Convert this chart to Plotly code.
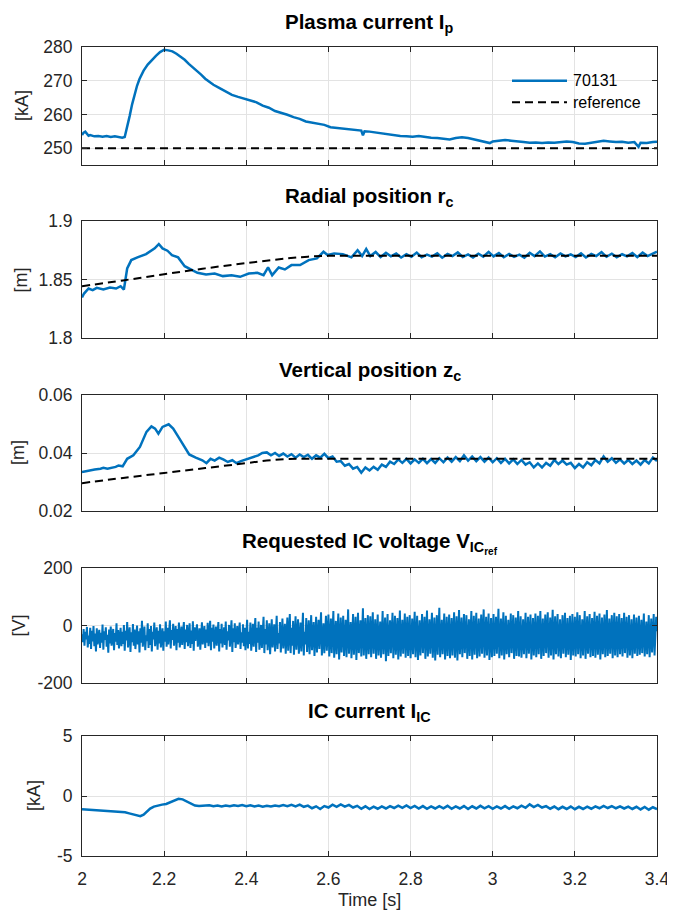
import plotly.graph_objects as go
from plotly.subplots import make_subplots

# ---- plasma current Ip [kA] ----
ip_t = [2.000, 2.004, 2.008, 2.012, 2.016, 2.020, 2.030, 2.040, 2.050, 2.060,
        2.070, 2.080, 2.090, 2.098, 2.104, 2.110, 2.116, 2.122, 2.128, 2.134,
        2.140, 2.150, 2.160, 2.170, 2.180, 2.190, 2.200, 2.210, 2.220, 2.230,
        2.240, 2.250, 2.260, 2.270, 2.280, 2.290, 2.300, 2.310, 2.320, 2.335,
        2.350, 2.365, 2.380, 2.395, 2.410, 2.425, 2.440, 2.455, 2.470, 2.485,
        2.500, 2.515, 2.530, 2.545, 2.560, 2.575, 2.590, 2.605, 2.620, 2.635,
        2.650, 2.665, 2.680, 2.684, 2.688, 2.700, 2.715, 2.730, 2.745, 2.760,
        2.775, 2.790, 2.805, 2.820, 2.835, 2.850, 2.865, 2.880, 2.895, 2.910,
        2.925, 2.940, 2.955, 2.970, 2.985, 2.993, 3.000, 3.015, 3.030, 3.045,
        3.060, 3.075, 3.090, 3.105, 3.120, 3.135, 3.150, 3.165, 3.180, 3.195,
        3.210, 3.225, 3.240, 3.255, 3.270, 3.285, 3.300, 3.315, 3.330, 3.345,
        3.355, 3.360, 3.375, 3.390, 3.400]
ip_val = [253.9, 254.6, 254.9, 254.2, 253.7, 253.9, 253.5, 253.6, 253.4, 253.6,
          253.3, 253.5, 253.2, 253.1, 253.3, 256.0, 259.5, 263.0, 266.0, 268.5,
          270.5, 273.0, 274.8, 276.2, 277.4, 278.5, 279.2, 279.0, 278.7, 278.0,
          277.2, 276.2, 275.0, 274.0, 272.8, 271.8, 270.6, 269.6, 268.8, 267.8,
          266.8, 265.8, 265.2, 264.6, 264.2, 263.6, 262.6, 262.0, 261.0, 260.5,
          259.9, 259.2, 258.7, 257.9, 257.6, 257.1, 256.9, 256.2, 256.0, 255.8,
          255.7, 255.3, 255.2, 253.8, 255.0, 254.9, 254.6, 254.5, 254.2, 253.8,
          253.6, 253.5, 253.4, 253.6, 253.3, 253.1, 253.0, 252.8, 252.6, 253.0,
          253.2, 253.0, 252.6, 252.2, 251.9, 251.5, 252.0, 252.3, 252.4, 252.2,
          251.9, 251.8, 251.6, 251.7, 251.5, 251.7, 251.6, 251.8, 252.0, 251.8,
          251.4, 251.3, 251.6, 251.9, 252.2, 252.0, 251.8, 251.9, 251.6, 251.8,
          250.4, 251.6, 251.5, 251.8, 251.9]
ip_ref_t = [2.0, 3.4]
ip_ref = [250.0, 250.0]

# ---- radial position rc [m] ----
rc_t = [2.000, 2.005, 2.016, 2.026, 2.036, 2.052, 2.068, 2.083, 2.094, 2.102,
        2.110, 2.120, 2.135, 2.156, 2.177, 2.187, 2.196, 2.208, 2.219, 2.234,
        2.250, 2.260, 2.281, 2.302, 2.323, 2.343, 2.364, 2.385, 2.406, 2.427,
        2.442, 2.453, 2.463, 2.479, 2.494, 2.510, 2.531, 2.552, 2.572, 2.588,
        2.598, 2.614, 2.635, 2.656, 2.671, 2.682, 2.692, 2.702,
        2.715, 2.727, 2.740, 2.752, 2.765, 2.777, 2.790, 2.802, 2.815, 2.827,
        2.840, 2.852, 2.865, 2.877, 2.890, 2.902, 2.915, 2.927, 2.940, 2.952,
        2.965, 2.977, 2.990, 3.002, 3.015, 3.027, 3.040, 3.052, 3.065, 3.077,
        3.090, 3.102, 3.115, 3.127, 3.140, 3.152, 3.165, 3.177, 3.190, 3.202,
        3.215, 3.227, 3.240, 3.252, 3.265, 3.277, 3.290, 3.302, 3.315, 3.327,
        3.340, 3.352, 3.365, 3.377, 3.390, 3.400]
rc_val = [1.8346, 1.8380, 1.8423, 1.8409, 1.8429, 1.8414, 1.8431, 1.8423, 1.8443, 1.8414,
          1.8594, 1.8666, 1.8689, 1.8717, 1.8766, 1.8803, 1.8766, 1.8746, 1.8709, 1.8689,
          1.8614, 1.8594, 1.8557, 1.8543, 1.8551, 1.8529, 1.8537, 1.8523, 1.8551, 1.8557,
          1.8537, 1.8603, 1.8537, 1.8603, 1.8586, 1.8623, 1.8623, 1.8666, 1.8680, 1.8737,
          1.8709, 1.8723, 1.8717, 1.8689, 1.8751, 1.8700, 1.8760, 1.8700,
          1.8735, 1.8692, 1.8728, 1.8698, 1.8722, 1.8688, 1.8716, 1.8694, 1.8730, 1.8690,
          1.8712, 1.8696, 1.8724, 1.8686, 1.8718, 1.8700, 1.8732, 1.8692, 1.8714, 1.8688,
          1.8720, 1.8695, 1.8736, 1.8698, 1.8726, 1.8690, 1.8718, 1.8694, 1.8712, 1.8686,
          1.8728, 1.8700, 1.8740, 1.8696, 1.8716, 1.8690, 1.8722, 1.8698, 1.8714, 1.8692,
          1.8724, 1.8688, 1.8718, 1.8700, 1.8734, 1.8694, 1.8720, 1.8690, 1.8716, 1.8698,
          1.8726, 1.8692, 1.8730, 1.8700, 1.8722, 1.8738]
rc_ref_t = [2.0, 2.1, 2.2, 2.3, 2.4, 2.5, 2.55, 2.6, 2.65, 3.4]
rc_ref = [1.8443, 1.8492, 1.8545, 1.8595, 1.8640, 1.8680, 1.8695, 1.8702, 1.8703, 1.8703]

# ---- vertical position zc [m] ----
zc_t = [2.000, 2.015, 2.031, 2.045, 2.052, 2.062, 2.073, 2.082, 2.089, 2.099,
        2.110, 2.125, 2.141, 2.157, 2.169, 2.178, 2.186, 2.196, 2.211, 2.222,
        2.235, 2.249, 2.261, 2.277, 2.293, 2.303, 2.313, 2.323, 2.334, 2.345,
        2.355, 2.366, 2.376, 2.387, 2.397, 2.408, 2.418, 2.429, 2.439]
zc_val = [0.0334, 0.0339, 0.0343, 0.0346, 0.0349, 0.0346, 0.0349, 0.0352, 0.0357, 0.0354,
          0.0380, 0.0392, 0.0421, 0.0473, 0.0492, 0.0484, 0.0467, 0.0490, 0.0499, 0.0484,
          0.0455, 0.0421, 0.0395, 0.0384, 0.0375, 0.0365, 0.0380, 0.0374, 0.0384, 0.0377,
          0.0369, 0.0375, 0.0365, 0.0372, 0.0377, 0.0381, 0.0386, 0.0392, 0.0400]
# sampled part, 10 ms steps from 2.45 s
zc_t0, zc_dt = 2.45, 0.01
zc_samples = [0.0402, 0.0392, 0.0400, 0.0390, 0.0398, 0.0388, 0.0396, 0.0384, 0.0395, 0.0386,
              0.0394, 0.0380, 0.0392, 0.0384, 0.0397, 0.0382, 0.0388, 0.0370, 0.0372, 0.0356,
              0.0362, 0.0346, 0.0352, 0.0332, 0.0350, 0.0340, 0.0352, 0.0342, 0.0360, 0.0352,
              0.0370, 0.0362, 0.0378, 0.0366, 0.0380, 0.0364, 0.0378, 0.0366, 0.0380, 0.0365,
              0.0379, 0.0366, 0.0382, 0.0368, 0.0384, 0.0370, 0.0386, 0.0372, 0.0392, 0.0374,
              0.0388, 0.0372, 0.0386, 0.0370, 0.0384, 0.0368, 0.0382, 0.0366, 0.0380, 0.0364,
              0.0378, 0.0362, 0.0376, 0.0360, 0.0368, 0.0350, 0.0364, 0.0350, 0.0366, 0.0356,
              0.0376, 0.0362, 0.0374, 0.0360, 0.0366, 0.0348, 0.0362, 0.0350, 0.0368, 0.0358,
              0.0376, 0.0364, 0.0388, 0.0370, 0.0382, 0.0366, 0.0378, 0.0364, 0.0376, 0.0362,
              0.0374, 0.0360, 0.0376, 0.0364, 0.0384, 0.0372]
zc_ref_t = [2.0, 2.1, 2.2, 2.3, 2.4, 2.45, 2.5, 2.55, 3.4]
zc_ref = [0.0296, 0.0314, 0.0331, 0.0348, 0.0365, 0.0374, 0.0379, 0.0380, 0.0380]

# ---- requested IC voltage [V], 2 ms samples from 2.0 s (one row = 0.1 s) ----
vic_t0, vic_dt = 2.0, 0.002
vic_samples = [
    -30, -58, -12, -70, -22, -48, -5, -76, -35, -64, -8, -82, -18, -55, -2, -72, -28, -90, -10, -66,
    -40, -15, -78, -25, -60, 3, -84, -20, -50, -6, -74, -32, -95, -14, -62, -4, -70, -44, -12, -86,
    -26, -56, 8, -68, -16, -80, -36, -8, -72, -22,
    -64, 2, -88, -18, -52, 12, -76, -30, -6, -92, -24, -58, 5, -70, -14, -82, -40, 0, -66, -20,
    -94, -10, -60, 16, -74, -28, -4, -86, -34, -54, 8, -78, -12, -68, -2, -90, -22, -48, 10, -72,
    -38, -6, -84, -18, -62, 4, -76, -26, -10, -88,
    -20, -56, 14, -74, -8, -66, -32, 18, -80, -16, -50, 6, -70, -28, -2, -86, -12, -60, 10, -76,
    -36, -4, -68, -22, 12, -82, -14, -58, 2, -72, -30, 8, -78, -18, -64, 15, -88, -6, -54, -26,
    4, -74, -40, -10, -84, -20, 11, -66, -34, -2,
    -78, -14, -60, 9, -72, -24, 16, -86, -8, -56, 3, -80, -30, -4, -70, -18, 12, -90, -12, -62,
    6, -76, -34, -6, -68, 14, -84, -20, -52, 2, -74, -28, 18, -92, -10, -58, 8, -78, -38, -2,
    -66, -16, 10, -82, -24, -60, 4, -72, -8, -86,
    -12, 20, -80, -22, -64, 10, -88, -30, 6, -74, -16, 26, -92, -8, -60, 14, -84, -36, 2, -78,
    -20, 30, -96, -12, -66, 18, -86, -28, 8, -100, -14, 22, -76, -40, 4, -90, -18, 34, -82, -26,
    -62, 12, -94, -10, 24, -80, -32, 6, -98, -16,
    28, -88, -20, 40, -96, -8, -70, 16, -102, -26, 32, -84, -14, 22, -98, -36, 10, -90, -4, 44,
    -104, -22, -66, 26, -92, -12, 18, -100, -30, 36, -86, -6, 12, -106, -18, 30, -94, -40, 20, -82,
    -10, 46, -104, -24, 8, -96, -16, 34, -88, -28,
    38, -108, -20, 24, -96, -6, 50, -112, -30, 16, -100, -12, 42, -118, -24, 28, -94, -4, 34, -106,
    -36, 20, -110, -14, 56, -98, -28, 12, -114, -8, 40, -102, -22, 30, -120, -16, 44, -96, -34, 18,
    -108, -10, 60, -104, -26, 26, -116, -18, 36, -100,
    -12, 32, -110, -28, 46, -98, -8, 22, -116, -20, 38, -104, -34, 14, -112, -6, 50, -100, -24, 28,
    -124, -14, 40, -106, -30, 18, -96, -10, 44, -114, -22, 34, -102, -4, 26, -118, -32, 52, -108, -16,
    20, -98, -26, 42, -112, -8, 30, -106, -20, 36,
    -114, -12, 24, -100, -30, 48, -110, -6, 34, -120, -22, 18, -104, -14, 40, -96, -28, 30, -116, -10,
    52, -108, -24, 22, -98, -4, 44, -112, -18, 28, -122, -32, 36, -102, -8, 62, -110, -26, 20, -100,
    -14, 42, -118, -20, 30, -106, -6, 38, -114, -28,
    26, -104, -16, 46, -112, -8, 32, -122, -24, 54, -100, -12, 28, -110, -30, 40, -96, -4, 36, -116,
    -20, 22, -106, -10, 50, -118, -26, 34, -102, -14, 44, -114, -6, 24, -108, -28, 38, -98, -18, 56,
    -112, -8, 30, -104, -22, 42, -120, -12, 26, -110,
    -20, 40, -106, -6, 30, -98, -28, 58, -114, -14, 24, -104, -22, 46, -118, -8, 34, -100, -30, 20,
    -110, -12, 42, -96, -24, 36, -116, -4, 28, -106, -18, 50, -108, -10, 32, -112, -26, 22, -100, -6,
    44, -114, -20, 30, -98, -14, 38, -118, -28, 26,
    -104, -8, 42, -110, -22, 34, -100, -12, 50, -116, -28, 24, -106, -4, 38, -96, -18, 46, -112, -10,
    28, -104, -26, 55, -118, -14, 32, -100, -6, 40, -108, -24, 22, -114, -16, 36, -98, -8, 44, -110,
    -30, 26, -102, -12, 34, -120, -20, 40, -104, -6,
    30, -108, -18, 46, -100, -10, 36, -114, -26, 22, -104, -4, 50, -116, -20, 32, -98, -12, 40, -110,
    -28, 26, -106, -8, 48, -112, -16, 34, -102, -22, 42, -118, -6, 28, -100, -24, 38, -110, -14, 54,
    -106, -30, 24, -98, -10, 36, -114, -18, 44, -104,
    -12, 32, -110, -22, 40, -100, -6, 26, -108, -28, 44, -96, -14, 30, -112, -20, 36, -104, -8, 22,
    -114, -24, 38, -98, -16, 28, -106, -10, 34, -102, -26, 20, -96, -4, 42, -108, -18, 14, -100, -12,
    36, -110, -22, 24, -94, -6, 40, -104, -16, 30,
    -20]

# ---- IC current [kA] ----
iic_t = [2.000, 2.020, 2.040, 2.060, 2.075, 2.090, 2.105, 2.115, 2.125, 2.135,
         2.142, 2.150, 2.158, 2.166, 2.175, 2.185, 2.195, 2.205, 2.215, 2.225,
         2.235, 2.245, 2.255, 2.265, 2.275, 2.285, 2.295]
iic_val = [-1.10, -1.15, -1.20, -1.28, -1.30, -1.32, -1.36, -1.45, -1.55, -1.65,
           -1.68, -1.55, -1.30, -1.05, -0.88, -0.78, -0.72, -0.66, -0.52, -0.34,
           -0.24, -0.28, -0.44, -0.66, -0.80, -0.84, -0.82]
# sampled part, 10 ms steps from 2.31 s
iic_t0, iic_dt = 2.31, 0.01
iic_samples = [-0.78, -0.86, -0.80, -0.88, -0.79, -0.86, -0.77, -0.84, -0.76, -0.85,
               -0.78, -0.87, -0.80, -0.89, -0.81, -0.88, -0.79, -0.86, -0.76, -0.85,
               -0.74, -0.86, -0.72, -0.90, -0.80, -1.02, -0.86, -1.08, -0.84, -0.96,
               -0.72, -0.90, -0.70, -0.88, -0.74, -0.96, -0.82, -1.06, -0.86, -1.08,
               -0.88, -1.06, -0.86, -1.04, -0.84, -1.00, -0.80, -0.98, -0.78, -1.00,
               -0.82, -1.04, -0.84, -1.06, -0.86, -1.04, -0.84, -1.02, -0.82, -1.06,
               -0.86, -1.04, -0.84, -1.08, -0.86, -1.04, -0.82, -1.02, -0.84, -1.06,
               -0.86, -1.04, -0.84, -1.06, -0.86, -1.02, -0.80, -0.98, -0.70, -0.92,
               -0.74, -0.96, -0.84, -1.06, -0.88, -1.10, -0.90, -1.08, -0.88, -1.10,
               -0.90, -1.08, -0.88, -1.06, -0.86, -1.02, -0.82, -1.00, -0.84, -1.02,
               -0.86, -1.04, -0.88, -1.08, -0.90, -1.12, -0.92, -1.14, -0.94, -1.10]

titles = ["Plasma current I<sub>p</sub>", "Radial position r<sub>c</sub>",
          "Vertical position z<sub>c</sub>", "Requested IC voltage V<sub>IC<sub>ref</sub></sub>",
          "IC current I<sub>IC</sub>"]
ylabels = ["[kA]", "[m]", "[m]", "[V]", "[kA]"]
yranges = [[245, 280], [1.8, 1.9], [0.02, 0.06], [-200, 200], [-5, 5]]
yticks = [[250, 260, 270, 280], [1.8, 1.85, 1.9], [0.02, 0.04, 0.06], [-200, 0, 200], [-5, 0, 5]]
yticktext = [["250", "260", "270", "280"], ["1.8", "1.85", "1.9"], ["0.02", "0.04", "0.06"],
             ["-200", "0", "200"], ["-5", "0", "5"]]
xticks = [2, 2.2, 2.4, 2.6, 2.8, 3, 3.2, 3.4]
xticktext = ["2", "2.2", "2.4", "2.6", "2.8", "3", "3.2", "3.4"]

BLUE = "#0072BD"
FONT = "Liberation Sans, Arial, sans-serif"
# the page body puts the figure 8 px in from the window corner
OFF = 8
W, H = 675 - OFF, 918 - OFF

def px(xp):
    return (xp - OFF) / W

def py(yp):
    return (H - (yp - OFF)) / H

# panel boxes in window pixels (top, bottom), x from 82 to 657
boxes = [(47, 165), (221, 338), (395, 511), (568, 683), (736, 856)]
ylabel_x = [22, 20, 18, 18, 34]
x0, x1 = px(82), px(657)

vic_t = [round(vic_t0 + i * vic_dt, 4) for i in range(len(vic_samples))]
zc_t_all = zc_t + [round(zc_t0 + i * zc_dt, 4) for i in range(len(zc_samples))]
zc_all = zc_val + zc_samples
iic_t_all = iic_t + [round(iic_t0 + i * iic_dt, 4) for i in range(len(iic_samples))]
iic_all = iic_val + iic_samples

fig = make_subplots(rows=5, cols=1, shared_xaxes=True)

blue_line = dict(color=BLUE, width=2.5)
ref_line = dict(color="black", width=2, dash="8px,5px")

fig.add_trace(go.Scatter(x=ip_t, y=ip_val, mode="lines", line=blue_line, name="70131"), row=1, col=1)
fig.add_trace(go.Scatter(x=ip_ref_t, y=ip_ref, mode="lines", line=ref_line, name="reference"), row=1, col=1)
fig.add_trace(go.Scatter(x=rc_t, y=rc_val, mode="lines", line=blue_line), row=2, col=1)
fig.add_trace(go.Scatter(x=rc_ref_t, y=rc_ref, mode="lines", line=ref_line, line_shape="spline"), row=2, col=1)
fig.add_trace(go.Scatter(x=zc_t_all, y=zc_all, mode="lines", line=blue_line), row=3, col=1)
fig.add_trace(go.Scatter(x=zc_ref_t, y=zc_ref, mode="lines", line=ref_line, line_shape="spline"), row=3, col=1)
fig.add_trace(go.Scatter(x=vic_t, y=vic_samples, mode="lines", line=dict(color=BLUE, width=2.0)), row=4, col=1)
fig.add_trace(go.Scatter(x=iic_t_all, y=iic_all, mode="lines", line=blue_line), row=5, col=1)

axis_common = dict(showline=True, linecolor="#262626", linewidth=1, mirror="ticks",
                   ticks="inside", ticklen=5, tickcolor="#262626", showgrid=True,
                   gridcolor="#e3e3e3", gridwidth=1, zeroline=False, automargin=False,
                   tickfont=dict(family=FONT, size=17.5, color="#262626"))

for i in range(5):
    top, bot = boxes[i]
    n = "" if i == 0 else str(i + 1)
    fig.layout["yaxis" + n].update(
        domain=[py(bot), py(top)], range=yranges[i],
        tickvals=yticks[i], ticktext=yticktext[i], ticklabelstandoff=5, **axis_common)
    fig.layout["xaxis" + n].update(
        domain=[x0, x1], range=[2, 3.4], tickvals=xticks, ticktext=xticktext,
        showticklabels=(i == 4), ticklabelstandoff=7, **axis_common)
    # panel title
    fig.add_annotation(text="<b>" + titles[i] + "</b>", xref="paper", yref="paper",
                       x=(x0 + x1) / 2, y=py(top), xanchor="center", yanchor="bottom",
                       yshift=9, showarrow=False,
                       font=dict(family=FONT, size=20.5, color="black"))
    # y label
    fig.add_annotation(text=ylabels[i], xref="paper", yref="paper", textangle=-90,
                       x=px(ylabel_x[i]), y=py((top + bot) / 2),
                       xanchor="center", yanchor="middle", showarrow=False,
                       font=dict(family=FONT, size=18, color="#262626"))

fig.add_annotation(text="Time [s]", xref="paper", yref="paper", x=(x0 + x1) / 2, y=py(900),
                   xanchor="center", yanchor="middle", showarrow=False,
                   font=dict(family=FONT, size=18, color="#262626"))

# legend drawn by hand so the sample lines have MATLAB's length
leg = [("70131", dict(color=BLUE, width=2.5), 80.7), ("reference", dict(color="black", width=2, dash="8px,5px"), 102.3)]
for label, ln, ypx in leg:
    fig.add_shape(type="line", xref="paper", yref="paper", x0=px(512), x1=px(567),
                  y0=py(ypx), y1=py(ypx), line=ln)
    fig.add_annotation(text=label, xref="paper", yref="paper", x=px(571), y=py(ypx),
                       xanchor="left", yanchor="middle", showarrow=False,
                       font=dict(family=FONT, size=16, color="black"))

fig.update_layout(width=W, height=H, margin=dict(l=0, r=0, t=0, b=0),
                  plot_bgcolor="white", paper_bgcolor="white", showlegend=False,
                  font=dict(family=FONT))

fig.write_html("out.html")
